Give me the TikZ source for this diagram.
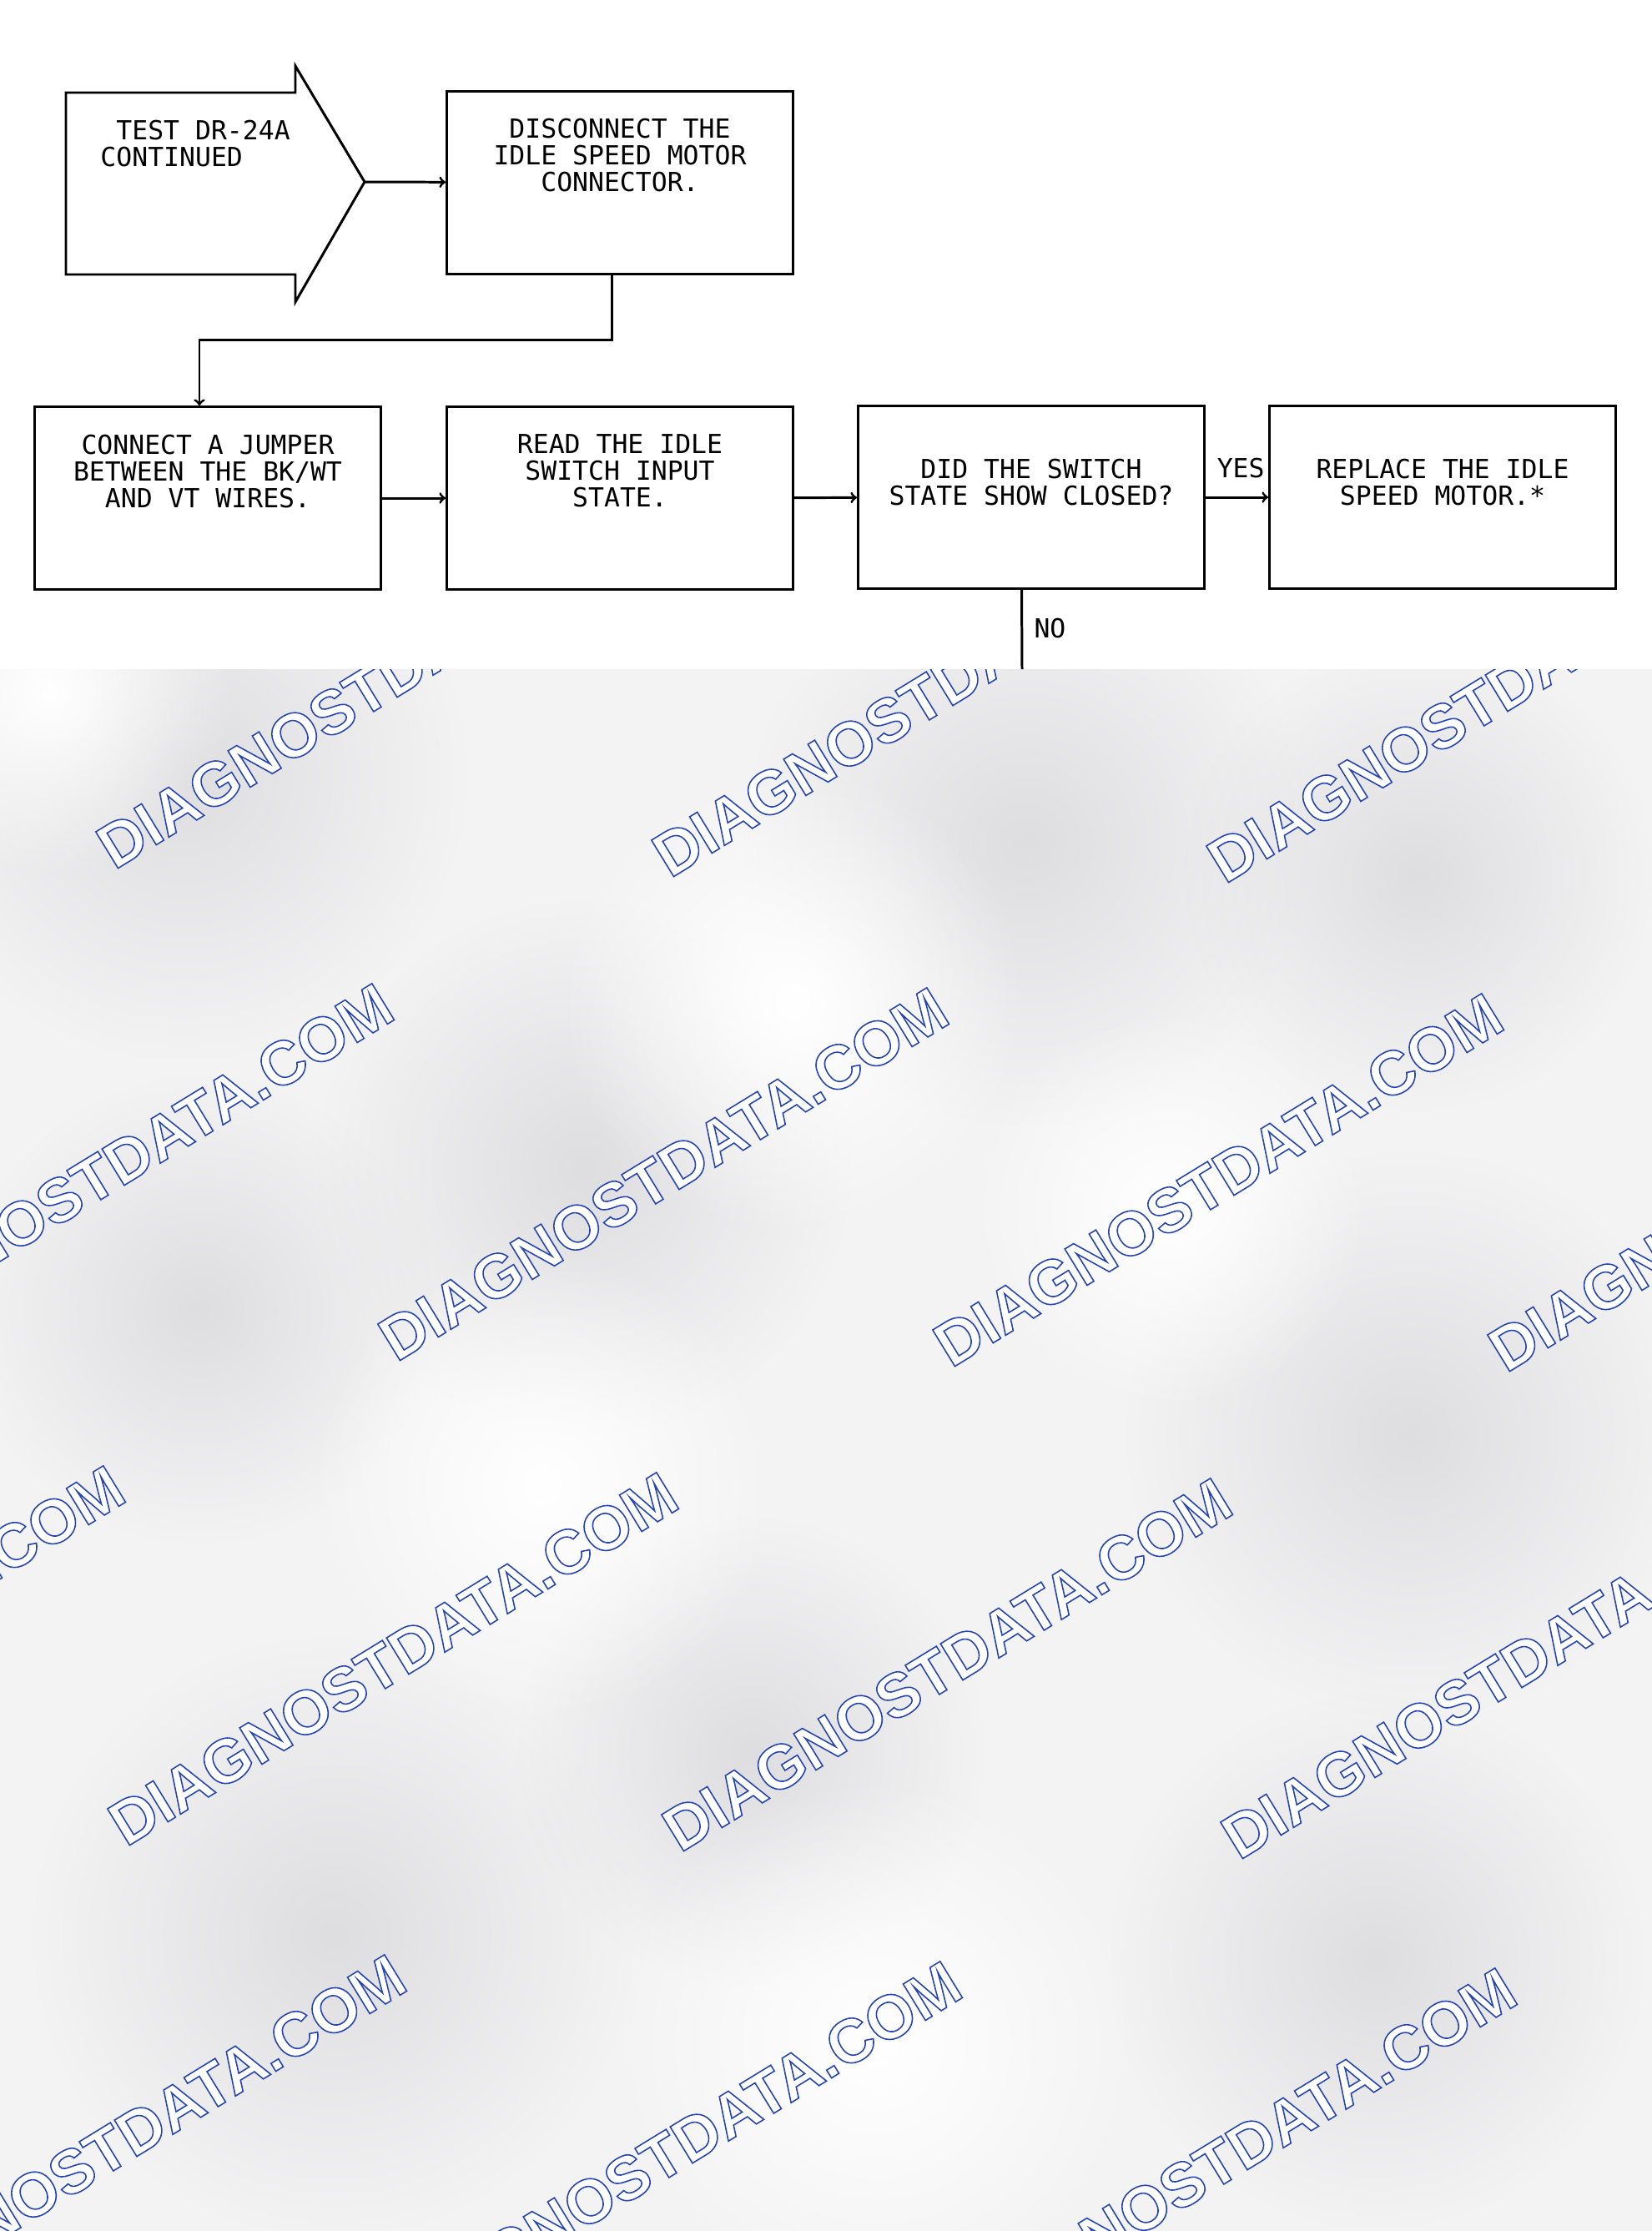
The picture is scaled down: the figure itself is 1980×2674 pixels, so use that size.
\documentclass[tikz,border=0pt]{standalone}
\usepackage{fontspec}
\newfontfamily\plotter{DejaVu Sans Mono}
\newfontfamily\stamp{Liberation Sans}
\usetikzlibrary{positioning,fadings}
\definecolor{wmblue}{RGB}{38,68,178}
\definecolor{paper}{RGB}{243,243,244}
\definecolor{smudge}{RGB}{222,222,224}
\tikzfading[name=blur, inner color=transparent!0, outer color=transparent!100]
% white letters with a thin blue rim
\newcommand\hollow[1]{{\color{white}\special{pdf:literal direct 2 Tr 0.9 w 0.15 0.27 0.70 RG}#1\special{pdf:literal direct 0 Tr}}}

\begin{document}
\begin{tikzpicture}[x=0.02cm, y=-0.02cm, line width=1.7pt,
    stepbox/.style = {draw, minimum width=8.3cm, minimum height=4.38cm},
    txt/.style = {font=\plotter\fontsize{17.9}{18.1}\selectfont, align=center, inner sep=0pt},
    flow/.style = {->},
    wmark/.style = {font=\stamp\bfseries\fontsize{42.3}{50}\selectfont, rotate=31.5, anchor=base west, inner sep=0pt}]
\useasboundingbox (0,0) rectangle (1980,2674);
% grey lower part with the site stamps
\begin{scope}
  \clip (0,802) rectangle (1980,2674);
  \fill[paper] (0,802) rectangle (1980,2674);
  \foreach \x/\y/\r in {220/930/340, 1230/1010/340, 700/1400/320, 240/1570/280, 1690/1720/340, 1700/1050/280, 400/2320/360, 900/2100/280, 1650/2350/320}
    \fill[smudge, path fading=blur] (\x,\y) circle [radius=\r];
  \foreach \x/\y/\r in {60/830/220, 950/1200/280, 1050/2450/320, 650/1780/280, 1400/1450/240}
    \fill[white, path fading=blur] (\x,\y) circle [radius=\r];
  \foreach \x/\y [count=\i] in {136/1044, 802/1054, 1467/1061, -191/1629, 474/1634, 1139/1641, 1804/1647, -513/2207, 150/2215, 814/2222, 1484/2231, -176/2793, 490/2801, 1155/2809}
    \node[wmark] (wm\i) at (\x,\y) {\hollow{DIAGNOSTDATA.COM}};
\end{scope}

% flow chart
\draw (79,111) -- (354,111) -- (354,79) -- (437,218) coordinate (tip) -- (354,362) -- (354,329) -- (79,329) -- cycle;
\node[txt, align=left, anchor=north west] (startT) at (119,143) {\ TEST DR-24A\\CONTINUED};

\node[stepbox] (disc) at (743,219) {};
\node[txt, below=0.66cm of disc.north] (discT) {DISCONNECT THE\\IDLE SPEED MOTOR\\CONNECTOR.};
\node[stepbox] (jump) at (249,597) {};
\node[txt, below=0.68cm of jump.north] (jumpT) {CONNECT A JUMPER\\BETWEEN THE BK/WT\\AND VT WIRES.};
\node[stepbox] (read) at (743,597) {};
\node[txt, below=0.66cm of read.north] (readT) {READ THE IDLE\\SWITCH INPUT\\STATE.};
\node[stepbox] (did) at (1236,596) {};
\node[txt, below=1.28cm of did.north] (didT) {DID THE SWITCH\\STATE SHOW CLOSED?};
\node[stepbox] (repl) at (1729,596) {};
\node[txt, below=1.28cm of repl.north] (replT) {REPLACE THE IDLE\\SPEED MOTOR.*};

\draw[flow] (tip) -- (disc);
\draw[flow] ([xshift=-0.2cm]disc.south) -- ++(0,78) -| ([xshift=-0.2cm]jump.north);
\draw[flow] (jump) -- (read);
\draw[flow] (read) -- (did);
\draw[flow] (did) -- (repl);
\node[txt, above left=0.44cm and 0.06cm of repl.west] (yes) {YES};

\coordinate (noend) at (1225,802);
\draw ([xshift=-0.23cm]did.south) -- (noend);
\node[txt, anchor=north west] (no) at (1238,740) {NO};
\end{tikzpicture}
\end{document}
